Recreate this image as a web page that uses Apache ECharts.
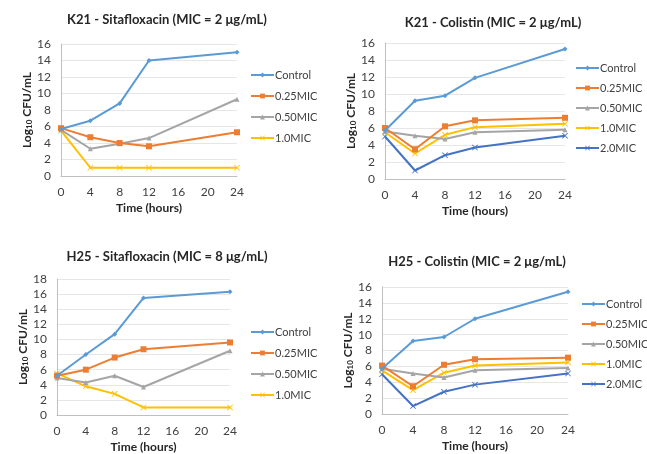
<!DOCTYPE html>
<html><head><meta charset="utf-8">
<script src="https://cdn.jsdelivr.net/npm/echarts@6/dist/echarts.min.js"></script>
<style>html,body{margin:0;padding:0;background:#fff}#c{width:647px;height:454px}</style>
</head><body><div id="c"></div>
<script>
const hours = [0, 4, 8, 12, 24];
const xTicks = [0, 4, 8, 12, 16, 20, 24];

const titles = [
  'K21 - Sitafloxacin (MIC = 2 μg/mL)',
  'K21 - Colistin (MIC = 2 μg/mL)',
  'H25 - Sitafloxacin (MIC = 8 μg/mL)',
  'H25 - Colistin (MIC = 2 μg/mL)'
];
const seriesNames = ['Control', '0.25MIC', '0.50MIC', '1.0MIC', '2.0MIC'];

// K21 - Sitafloxacin
const k21SitaControl = [5.7, 6.7, 8.8, 14.0, 15.0];
const k21Sita025 = [5.8, 4.7, 4.0, 3.6, 5.3];
const k21Sita050 = [5.6, 3.3, 3.9, 4.6, 9.3];
const k21Sita10 = [5.5, 1.0, 1.0, 1.0, 1.0];

// K21 - Colistin
const k21ColControl = [5.7, 9.2, 9.8, 11.9, 15.3];
const k21Col025 = [6.0, 3.5, 6.2, 6.9, 7.2];
const k21Col050 = [5.6, 5.1, 4.7, 5.5, 5.8];
const k21Col10 = [5.5, 3.0, 5.2, 6.1, 6.5];
const k21Col20 = [5.0, 1.0, 2.8, 3.7, 5.1];

// H25 - Sitafloxacin
const h25SitaControl = [5.2, 8.0, 10.7, 15.5, 16.3];
const h25Sita025 = [5.2, 6.0, 7.6, 8.7, 9.6];
const h25Sita050 = [4.9, 4.3, 5.2, 3.7, 8.5];
const h25Sita10 = [5.5, 3.8, 2.8, 1.0, 1.0];

// H25 - Colistin
const h25ColControl = [5.7, 9.2, 9.7, 12.0, 15.4];
const h25Col025 = [6.1, 3.5, 6.2, 6.9, 7.1];
const h25Col050 = [5.7, 5.1, 4.6, 5.5, 5.8];
const h25Col10 = [5.5, 3.0, 5.2, 6.1, 6.5];
const h25Col20 = [5.0, 1.0, 2.8, 3.7, 5.1];

const panelData = [
  [k21SitaControl, k21Sita025, k21Sita050, k21Sita10],
  [k21ColControl, k21Col025, k21Col050, k21Col10, k21Col20],
  [h25SitaControl, h25Sita025, h25Sita050, h25Sita10],
  [h25ColControl, h25Col025, h25Col050, h25Col10, h25Col20]
];
const yMax = [16, 16, 18, 16];

const colors = ['#5B9BD5', '#ED7D31', '#A5A5A5', '#FFC000', '#4472C4'];
const xPath = 'path://M0,1L1,0L5,4L9,0L10,1L6,5L10,9L9,10L5,6L1,10L0,9L4,5Z';
const symbols = ['diamond', 'rect', 'triangle', xPath, xPath];
const symSizes = [5, 6, 5, 6, 6];

const grids = [
  {left: 61, top: 44, width: 176, height: 132},
  {left: 385, top: 43, width: 180, height: 136},
  {left: 57, top: 279, width: 173, height: 139},
  {left: 382, top: 287, width: 186, height: 127}
];
const titlePos = [[167, 13], [493, 16], [167, 250], [477, 255]];
const legendPos = [[250, 69], [575, 62], [250, 326], [581, 298]];
const legendGap = [9, 8, 9, 8];

const FONT = 'Lato, "Open Sans", sans-serif';
const option = {
  animation: false,
  backgroundColor: '#fff',
  title: titles.map((t, i) => ({
    text: t, left: titlePos[i][0], top: titlePos[i][1], textAlign: 'center', padding: 0,
    textStyle: {fontFamily: FONT, fontSize: 13, fontWeight: 'bold', color: '#262626'}
  })),
  grid: grids,
  legend: panelData.map((d, i) => ({
    orient: 'vertical', left: legendPos[i][0], top: legendPos[i][1], padding: 0,
    itemWidth: 23, itemHeight: 6, itemGap: legendGap[i],
    data: seriesNames.slice(0, d.length),
    textStyle: {fontFamily: FONT, fontSize: 11, lineHeight: 12, color: '#404040', padding: [0, 0, 0, -4]}
  })),
  xAxis: grids.map((g, i) => ({
    type: 'value', gridIndex: i, min: 0, max: 24, interval: 4,
    name: 'Time (hours)', nameLocation: 'middle', nameGap: 26,
    nameTextStyle: {fontFamily: FONT, fontSize: 12, fontWeight: 'bold', color: '#262626'},
    axisLine: {show: true, lineStyle: {color: '#BFBFBF', width: 1}},
    axisTick: {show: false},
    splitLine: {show: false},
    axisLabel: {fontFamily: FONT, fontSize: 12, color: '#404040', margin: 10,
      formatter: v => xTicks.includes(v) ? String(v) : ''}
  })),
  yAxis: grids.map((g, i) => ({
    type: 'value', gridIndex: i, min: 0, max: yMax[i], interval: 2,
    name: '{a|Log}{s|10}{a| CFU/mL}', nameLocation: 'middle', nameGap: 27,
    nameTextStyle: {rich: {
      a: {fontFamily: FONT, fontSize: 12, fontWeight: 'bold', color: '#262626'},
      s: {fontFamily: FONT, fontSize: 8, fontWeight: 'bold', color: '#262626', verticalAlign: 'bottom', padding: [4, 0, 0, 0]}
    }},
    axisLine: {show: true, lineStyle: {color: '#BFBFBF', width: 1}},
    axisTick: {show: false},
    splitLine: {show: true, lineStyle: {color: '#E6E6E6', width: 1}},
    axisLabel: {fontFamily: FONT, fontSize: 12, color: '#404040', margin: 10}
  })),
  series: []
};

panelData.forEach((d, i) => {
  d.forEach((vals, j) => {
    option.series.push({
      type: 'line', name: seriesNames[j], xAxisIndex: i, yAxisIndex: i,
      data: hours.map((h, k) => [h, vals[k]]),
      symbol: symbols[j], symbolSize: symSizes[j], showSymbol: true,
      lineStyle: {color: colors[j], width: 2},
      itemStyle: {color: colors[j]},
      z: 10 - j
    });
  });
});

const chart = echarts.init(document.getElementById('c'), null, {renderer: 'canvas'});
chart.setOption(option);
</script></body></html>
